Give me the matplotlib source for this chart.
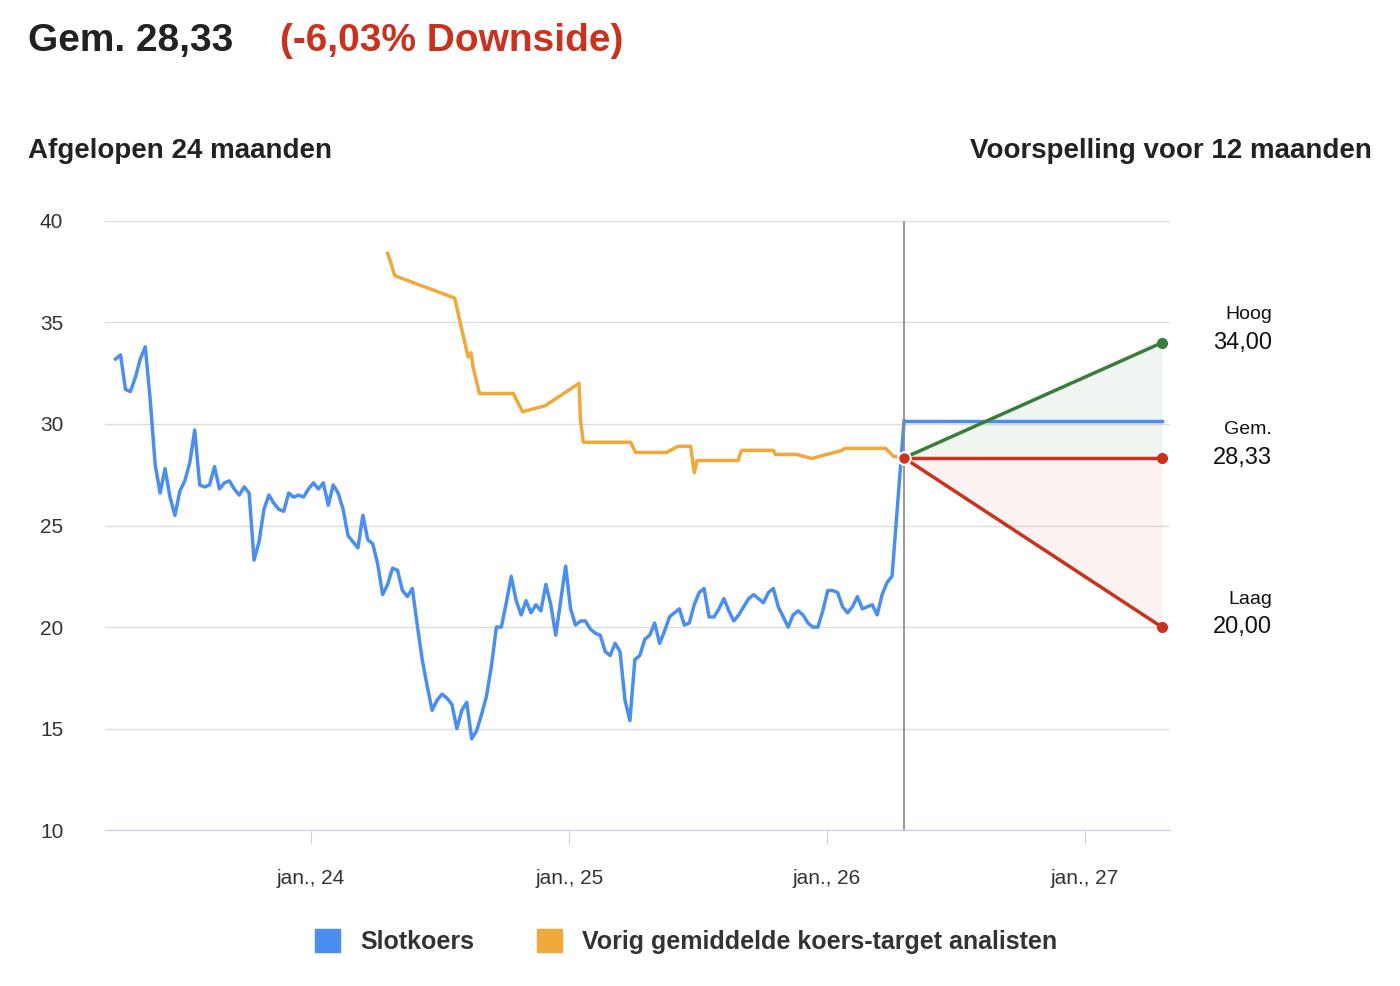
import matplotlib
matplotlib.use("Agg")
import matplotlib.pyplot as plt
import matplotlib.dates as mdates
import pandas as pd
import numpy as np

plt.rcParams['font.family'] = ['Liberation Sans', 'DejaVu Sans']

close_vals = [33.2,33.4,31.7,31.6,32.3,33.2,33.8,31.2,28.0,26.6,27.8,26.4,25.5,26.7,27.2,28.1,29.7,27.0,26.9,27.0,
27.9,26.8,27.1,27.2,26.8,26.5,26.9,26.6,23.3,24.2,25.8,26.5,26.1,25.8,25.7,26.6,26.4,26.5,26.4,26.8,
27.1,26.8,27.1,26.0,27.0,26.6,25.8,24.5,24.2,23.9,25.5,24.3,24.1,23.1,21.6,22.1,22.9,22.8,21.8,21.5,
21.9,20.1,18.4,17.1,15.9,16.4,16.7,16.5,16.2,15.0,15.9,16.3,14.5,14.9,15.7,16.6,18.1,20.0,20.0,21.2,
22.5,21.3,20.6,21.3,20.7,21.1,20.8,22.1,21.1,19.6,21.3,23.0,20.9,20.1,20.3,20.3,19.9,19.7,19.6,18.8,
18.6,19.2,18.8,16.4,15.4,18.4,18.6,19.4,19.6,20.2,19.2,19.8,20.5,20.7,20.9,20.1,20.2,21.1,21.7,21.9,
20.5,20.5,20.9,21.4,20.8,20.3,20.6,21.0,21.4,21.6,21.4,21.2,21.7,21.9,21.0,20.5,20.0,20.6,20.8,20.6,
20.2,20.0,20.0,20.8,21.8,21.8,21.7,21.0,20.7,21.0,21.5,20.9,21.0,21.1,20.6,21.6,22.2,22.5]
close_start = "2023-03-31"
current_date = "2026-04-20"
current_price = 30.15

target_dates = ["2024-04-19","2024-04-23","2024-04-29","2024-07-23","2024-08-01","2024-08-11","2024-08-15",
"2024-08-18","2024-08-27","2024-10-14","2024-10-27","2024-11-28","2025-01-15","2025-01-17","2025-01-21",
"2025-03-29","2025-04-05","2025-05-19","2025-06-04","2025-06-22","2025-06-27","2025-07-01","2025-08-28",
"2025-09-02","2025-10-17","2025-10-20","2025-11-19","2025-12-10","2026-01-22","2026-01-26","2026-03-25",
"2026-04-05","2026-04-20"]
target_vals = [38.4,38.0,37.3,36.2,34.8,33.3,33.5,32.8,31.5,31.5,30.6,30.9,32.0,30.2,29.1,29.1,28.6,28.6,
28.9,28.9,27.6,28.2,28.2,28.7,28.7,28.5,28.5,28.3,28.7,28.8,28.8,28.4,28.33]

fc_end = "2027-04-20"
fc_high, fc_avg, fc_low = 34.00, 28.33, 20.00

blue = "#4a8ef0"; orange = "#f0a83a"; green = "#3a7d3a"; red = "#c8321e"

cdates = list(pd.date_range(close_start, periods=len(close_vals), freq="7D")) + [pd.Timestamp(current_date)]
cvals = close_vals + [current_price]
tdates = pd.to_datetime(target_dates)
t0, t1 = pd.Timestamp(current_date), pd.Timestamp(fc_end)

fig = plt.figure(figsize=(14, 9.86), dpi=100)
ax = fig.add_axes([0.075, 0.158, 0.761, 0.618])
ax.set_ylim(10, 40)
ax.set_xlim(pd.Timestamp("2023-03-16"), pd.Timestamp("2027-05-02"))
ax.set_yticks(range(10, 41, 5))
ax.yaxis.grid(True, color="#dddddd", lw=1)
ax.set_axisbelow(True)
for s in ["top", "right", "left"]:
    ax.spines[s].set_visible(False)
ax.spines["bottom"].set_color("#c8d3e6")
ax.tick_params(axis="y", length=0, labelsize=15, labelcolor="#333333", pad=30)
ax.xaxis.set_major_locator(mdates.YearLocator())
ax.xaxis.set_major_formatter(mdates.DateFormatter("jan., %y"))
ax.tick_params(axis="x", length=10, color="#c8d3e6", labelsize=15, labelcolor="#333333", pad=18)

ax.fill_between([t0, t1], [fc_avg, fc_avg], [fc_avg, fc_high], color=green, alpha=0.07, lw=0)
ax.fill_between([t0, t1], [fc_avg, fc_avg], [fc_avg, fc_low], color=red, alpha=0.06, lw=0)
ax.plot(tdates, target_vals, color=orange, lw=2.5)
ax.plot(cdates, cvals, color=blue, lw=2.5)
ax.plot([t0, t1], [current_price, current_price], color=blue, lw=2.5)
ax.plot([t0, t1], [fc_avg, fc_high], color=green, lw=2.5)
ax.plot([t0, t1], [fc_avg, fc_avg], color=red, lw=2.5)
ax.plot([t0, t1], [fc_avg, fc_low], color=red, lw=2.5)
ax.axvline(t0, color="#888888", lw=1.2)
ax.plot([t1], [fc_high], "o", color=green, ms=7)
ax.plot([t1], [fc_avg], "o", color=red, ms=7)
ax.plot([t1], [fc_low], "o", color=red, ms=7)
ax.plot([t0], [fc_avg], "o", color=red, ms=9, mec="white", mew=1.5, zorder=5)

def fmt(v):
    return f"{v:.2f}".replace(".", ",")
for lab, v in [("Hoog", fc_high), ("Gem.", fc_avg), ("Laag", fc_low)]:
    ax.annotate(lab, (1.0, v), xycoords=("axes fraction", "data"), xytext=(73, 14),
                textcoords="offset points", ha="right", va="bottom", fontsize=14, color="#111111")
    ax.annotate(fmt(v), (1.0, v), xycoords=("axes fraction", "data"), xytext=(73, 0),
                textcoords="offset points", ha="right", va="center", fontsize=17, color="#111111")

fig.text(0.02, 0.958, "Gem. 28,33", fontsize=28, fontweight="bold", color="#222222", va="center")
fig.text(0.2, 0.958, "(-6,03% Downside)", fontsize=28, fontweight="bold", color=red, va="center")
fig.text(0.02, 0.847, "Afgelopen 24 maanden", fontsize=20, fontweight="bold", color="#222222", va="center")
fig.text(0.98, 0.847, "Voorspelling voor 12 maanden", fontsize=20, fontweight="bold", color="#222222",
         va="center", ha="right")

from matplotlib.patches import Patch
leg = fig.legend(handles=[Patch(color=blue, label="Slotkoers"),
                          Patch(color=orange, label="Vorig gemiddelde koers-target analisten")],
                 loc="center", bbox_to_anchor=(0.49, 0.045), ncol=2, frameon=False,
                 handlelength=1.0, handleheight=1.0, columnspacing=2.5,
                 prop={"size": 18, "weight": "bold"})
for t in leg.get_texts():
    t.set_color("#333333")

fig.savefig("out.png", dpi=100)
